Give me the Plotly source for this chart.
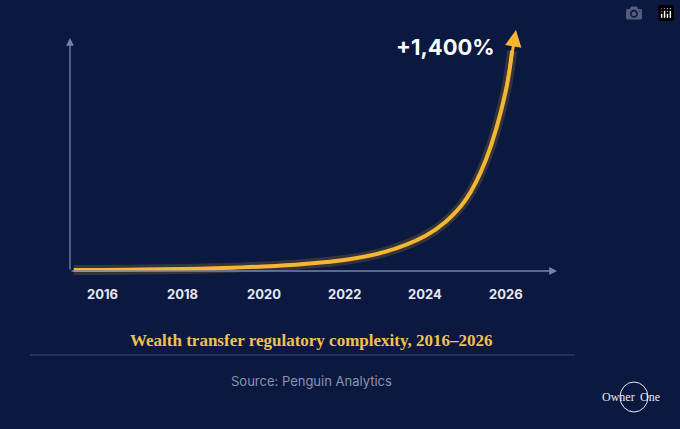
import plotly.graph_objects as go

years = [2015.3, 2016, 2017, 2018, 2019, 2020, 2021, 2022, 2023, 2024, 2024.5, 2025, 2025.5, 2026, 2026.15]
values = [13, 13, 16, 19, 25, 35, 51, 76, 127, 228, 316, 456, 709, 1152, 1400]
tick_years = [2016, 2018, 2020, 2022, 2024, 2026]
title = "Wealth transfer regulatory complexity, 2016–2026"
source = "Source: Penguin Analytics"
label = "+1,400%"

BG = "#0b1840"
GOLD = "#f5b731"
AX = "#7584a8"

def px(xp): return 2016 + (xp - 102) / 40.4
def py(yp): return (272 - yp) * 6.33

fig = go.Figure()
fig.add_trace(go.Scatter(x=years, y=values, mode="lines", line=dict(color="rgba(245,183,49,0.18)", width=10, shape="spline"), hoverinfo="skip"))
fig.add_trace(go.Scatter(x=years, y=values, mode="lines", line=dict(color=GOLD, width=4, shape="spline"), hoverinfo="skip"))

ann = []
ann.append(dict(x=px(70), y=py(38), ax=px(70), ay=py(271), xref="x", yref="y", axref="x", ayref="y",
                showarrow=True, arrowhead=2, arrowsize=1.2, arrowwidth=1.3, arrowcolor=AX, text=""))
ann.append(dict(x=px(557), y=py(271), ax=px(70), ay=py(271), xref="x", yref="y", axref="x", ayref="y",
                showarrow=True, arrowhead=2, arrowsize=1.2, arrowwidth=1.3, arrowcolor=AX, text=""))
ann.append(dict(x=px(516), y=py(30), ax=years[-2], ay=values[-2], xref="x", yref="y", axref="x", ayref="y",
                showarrow=True, arrowhead=2, arrowsize=1.1, arrowwidth=3, arrowcolor=GOLD, text=""))
for t in tick_years:
    ann.append(dict(x=t, y=py(294), xref="x", yref="y", text=f"<b>{t}</b>", showarrow=False,
                    font=dict(family="Inter", size=13, color="#e6e9f2")))
ann.append(dict(x=px(445), y=py(47), xref="x", yref="y", text=f"<b>{label}</b>", showarrow=False,
                font=dict(family="Inter", size=22, color="white")))
ann.append(dict(x=px(311), y=py(340), xref="x", yref="y", text=f"<b>{title}</b>", showarrow=False,
                font=dict(family="Liberation Serif", size=17, color="#f2c14e")))
ann.append(dict(x=px(311), y=py(381), xref="x", yref="y", text=source, showarrow=False,
                font=dict(family="Inter", size=13, color="#8a94ad")))
ann.append(dict(x=px(618), y=py(397), xref="x", yref="y", text="Owner", showarrow=False,
                font=dict(family="Liberation Serif", size=12, color="#e6e9f2")))
ann.append(dict(x=px(650), y=py(397), xref="x", yref="y", text="One", showarrow=False,
                font=dict(family="Liberation Serif", size=12, color="#e6e9f2")))
fig.update_layout(annotations=ann)

fig.add_shape(type="line", x0=px(30), x1=px(575), y0=py(355), y1=py(355), line=dict(color="rgba(120,135,170,0.45)", width=1))
fig.add_shape(type="circle", x0=px(620), x1=px(648), y0=py(382), y1=py(412), line=dict(color="#e6e9f2", width=1))

fig.update_layout(
    width=680, height=429, margin=dict(l=0, r=0, t=0, b=0),
    paper_bgcolor=BG, plot_bgcolor=BG, showlegend=False,
    xaxis=dict(range=[px(0), px(680)], visible=False, fixedrange=True),
    yaxis=dict(range=[py(429), py(0)], visible=False, fixedrange=True),
)
fig.write_html("out.html", post_script="document.body.style.margin='0';document.body.style.background='#0b1840';")
